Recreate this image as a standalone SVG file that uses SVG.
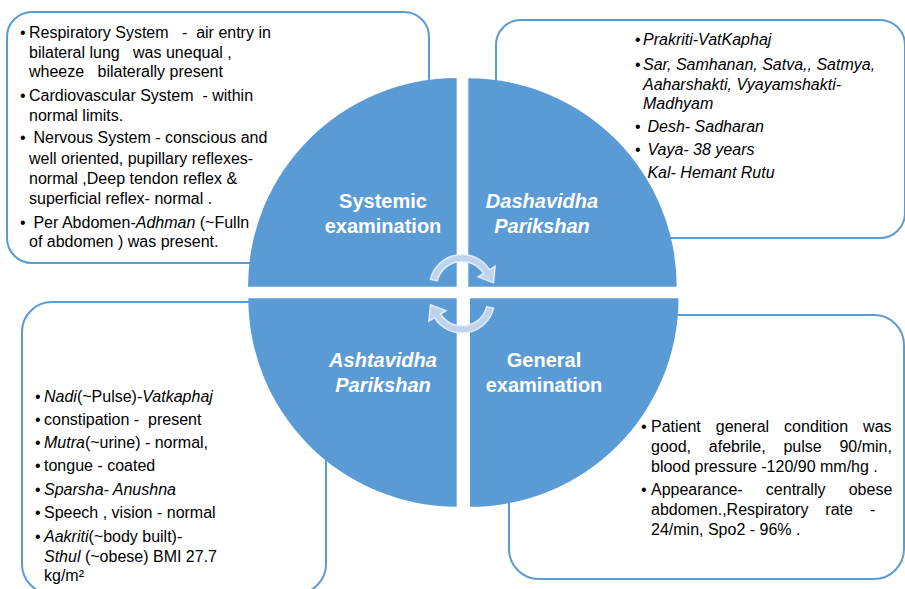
<svg xmlns="http://www.w3.org/2000/svg" width="905" height="589" viewBox="0 0 905 589">
<style>
.box{fill:#fff;stroke:#5B9BD5;stroke-width:2}
.t{font-family:"Liberation Sans",Arial,sans-serif;font-size:16px;fill:#000}
.i{font-style:italic}
.quad{fill:#5B9BD5}
.q{font-family:"Liberation Sans",Arial,sans-serif;font-size:20px;font-weight:bold;fill:#fff;text-anchor:middle}
.arrow{fill:#BDD3EE;stroke:#E4ECF7;stroke-width:1.5}
</style>
<defs>
<path id="carrow" d="M 430.47 279.14 A 32.5 32.5 0 0 1 489.56 269.78 L 495.07 266.33 L 493.48 282.65 L 478.11 276.93 L 483.62 273.49 A 25.5 25.5 0 0 0 437.26 280.83 Z"/>
</defs>
<rect width="905" height="589" fill="#fff"/>

<g id="box-systemic">
<rect class="box" x="7" y="12" width="422" height="251" rx="25"/>
<g class="t">
<text x="20" y="38">•</text>
<text x="29" y="38" xml:space="preserve">Respiratory System   -  air entry in</text>
<text x="29" y="58" xml:space="preserve">bilateral lung   was unequal ,</text>
<text x="29" y="77" xml:space="preserve">wheeze   bilaterally present</text>
<text x="20" y="101">•</text>
<text x="29" y="101" xml:space="preserve">Cardiovascular System  - within</text>
<text x="29" y="121">normal limits.</text>
<text x="20" y="143">•</text>
<text x="29" y="143" xml:space="preserve"> Nervous System - conscious and</text>
<text x="29" y="164">well oriented, pupillary reflexes-</text>
<text x="29" y="184">normal ,Deep tendon reflex &amp;</text>
<text x="29" y="204">superficial reflex- normal .</text>
<text x="20" y="228">•</text>
<text x="29" y="228" xml:space="preserve"> Per Abdomen-<tspan class="i">Adhman</tspan> (~Fulln</text>
<text x="29" y="247">of abdomen ) was present.</text>
</g>
</g>

<g id="box-dashavidha">
<rect class="box" x="496" y="20" width="409" height="218" rx="25"/>
<g class="t">
<text x="635" y="45">•</text>
<text class="i" x="643" y="45">Prakriti-VatKaphaj</text>
<text x="635" y="70">•</text>
<text class="i" x="643" y="70">Sar, Samhanan, Satva,, Satmya,</text>
<text class="i" x="643" y="90">Aaharshakti, Vyayamshakti-</text>
<text class="i" x="643" y="109">Madhyam</text>
<text x="635" y="132">•</text>
<text class="i" x="643" y="132" xml:space="preserve"> Desh- Sadharan</text>
<text x="635" y="155">•</text>
<text class="i" x="643" y="155" xml:space="preserve"> Vaya- 38 years</text>
<text class="i" x="643" y="178" xml:space="preserve"> Kal- Hemant Rutu</text>
</g>
</g>

<g id="box-ashtavidha">
<rect class="box" x="22" y="302" width="304" height="292" rx="30"/>
<g class="t">
<text x="35" y="402">•</text>
<text x="44" y="402"><tspan class="i">Nadi</tspan>(~Pulse)-<tspan class="i">Vatkaphaj</tspan></text>
<text x="35" y="425">•</text>
<text x="44" y="425" xml:space="preserve">constipation -  present</text>
<text x="35" y="448">•</text>
<text x="44" y="448"><tspan class="i">Mutra</tspan>(~urine) - normal,</text>
<text x="35" y="471">•</text>
<text x="44" y="471">tongue - coated</text>
<text x="35" y="495">•</text>
<text class="i" x="44" y="495">Sparsha- Anushna</text>
<text x="35" y="518">•</text>
<text x="44" y="518">Speech , vision - normal</text>
<text x="35" y="542">•</text>
<text x="44" y="542"><tspan class="i">Aakriti</tspan>(~body built)-</text>
<text x="44" y="562"><tspan class="i">Sthul</tspan> (~obese) BMI 27.7</text>
<text x="44" y="581">kg/m²</text>
</g>
</g>

<g id="box-general">
<rect class="box" x="509" y="315" width="395" height="264" rx="30"/>
<g class="t">
<text x="641" y="432">•</text>
<text x="651" y="432" word-spacing="10.5">Patient general condition was</text>
<text x="651" y="452" word-spacing="13.3">good, afebrile, pulse 90/min,</text>
<text x="651" y="472">blood pressure -120/90 mm/hg .</text>
<text x="641" y="495">•</text>
<text x="651" y="495" word-spacing="18.8">Appearance- centrally obese</text>
<text x="651" y="515" word-spacing="12.5">abdomen.,Respiratory rate -</text>
<text x="651" y="535">24/min, Spo2 - 96% .</text>
</g>
</g>

<g id="quadrant-systemic">
<path class="quad" d="M 456.7 286.7 L 248 286.7 A 208.7 208.7 0 0 1 456.7 78 Z"/>
<text class="q" x="383" y="208">Systemic</text>
<text class="q" x="383" y="233">examination</text>
</g>
<g id="quadrant-dashavidha">
<path class="quad" d="M 468.3 286.7 L 468.3 78.3 A 208.4 208.4 0 0 1 676.7 286.7 Z"/>
<text class="q" x="542" y="208" font-style="italic">Dashavidha</text>
<text class="q" x="542" y="233" font-style="italic">Parikshan</text>
</g>
<g id="quadrant-ashtavidha">
<path class="quad" d="M 456.7 298.3 L 456.7 506.7 A 208.4 208.4 0 0 1 248.3 298.3 Z"/>
<text class="q" x="383" y="367" font-style="italic">Ashtavidha</text>
<text class="q" x="383" y="392" font-style="italic">Parikshan</text>
</g>
<g id="quadrant-general">
<path class="quad" d="M 470 298.3 L 678.5 298.3 A 208.5 208.5 0 0 1 470 506.8 Z"/>
<text class="q" x="544" y="367">General</text>
<text class="q" x="544" y="392">examination</text>
</g>

<g id="connectors">
<use href="#carrow" class="arrow"/>
<use href="#carrow" class="arrow" transform="rotate(180 462 293.75)"/>
</g>
</svg>
